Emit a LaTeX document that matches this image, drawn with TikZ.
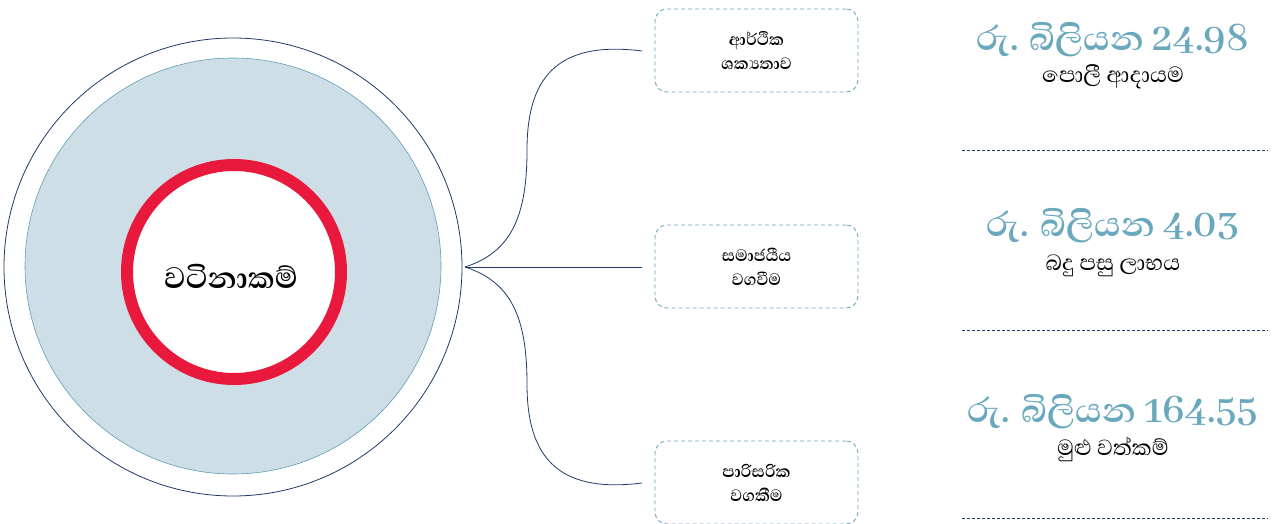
\documentclass[tikz,border=0pt]{standalone}
\usepackage{fontspec}
\newfontfamily\sinhala[Script=Sinhala]{Abhaya Libre}
\usetikzlibrary{positioning}
\definecolor{mynavy}{HTML}{1F3A68}
\definecolor{myteal}{HTML}{6AA8BE}
\definecolor{myred}{HTML}{E8193C}
\definecolor{myfill}{HTML}{CEDEE6}
\definecolor{myrim}{HTML}{5E9FB2}
\tikzset{
  pillarBox/.style={draw=myteal,line width=0.9pt,dash pattern=on 4pt off 3pt,rounded corners=12pt,minimum width=203pt,minimum height=83pt,align=center,inner sep=0pt,font=\sinhala\bfseries\fontsize{21}{24}\selectfont},
  amountText/.style={text=myteal,inner sep=0pt,font=\sinhala\bfseries\fontsize{44}{44}\selectfont},
  captionText/.style={inner sep=0pt,font=\sinhala\fontsize{28}{28}\selectfont},
  branchEdge/.style={draw=mynavy,line width=0.8pt},
  sepLine/.style={draw=mynavy,dash pattern=on 3pt off 2pt,line width=0.8pt},
}

\begin{document}
\begin{tikzpicture}[x=1pt,y=-1pt]
  \useasboundingbox (0,0) rectangle (1273,524);

  % circles
  \draw[mynavy,line width=0.8pt] (233,267) circle (229);
  \draw[myrim,fill=myfill,line width=0.6pt] (233,266) circle (208);
  \draw[myred,fill=white,line width=12pt] (234,272) circle (107);
  \node[inner sep=0pt,font=\sinhala\bfseries\fontsize{38}{38}\selectfont] (core) at (231,276) {වටිනාකම්};

  % pillars
  \node[pillarBox] (econ) at (756.5,50.5) {ආර්ථික\\ශක්‍යතාව};
  \node[pillarBox] (social) at (756.5,266.5) {සමාජයීය\\වගවීම};
  \node[pillarBox] (env) at (756.5,482.5) {පාරිසරික\\වගකීම};

  \coordinate (hub) at (465,267);
  \coordinate (econIn) at (642,51);
  \coordinate (socialIn) at (642,267);
  \coordinate (envIn) at (642,483);

  \path[branchEdge] (hub) .. controls (512,252) and (527,215) .. (527,150)
    .. controls (527,80) and (555,40) .. (econIn);
  \path[branchEdge] (hub) -- (socialIn);
  \path[branchEdge] (hub) .. controls (512,282) and (527,319) .. (527,384)
    .. controls (527,454) and (555,494) .. (envIn);

  % figures
  \node[amountText] (interest) at (1113,40) {රු. බිලියන 24.98};
  \node[captionText] (interestCap) at (1113,77) {පොලී ආදායම};
  \node[amountText] (profit) at (1113,226) {රු. බිලියන 4.03};
  \node[captionText] (profitCap) at (1113,266) {බදු පසු ලාභය};
  \node[amountText] (assets) at (1113,412) {රු. බිලියන 164.55};
  \node[captionText] (assetsCap) at (1113,450) {මුළු වත්කම්};

  \coordinate (sepA) at (962,150);
  \coordinate (sepB) at (962,330);
  \coordinate (sepC) at (962,518);
  \path[sepLine] (sepA) -- +(306,0);
  \path[sepLine] (sepB) -- +(306,0);
  \path[sepLine] (sepC) -- +(306,0);
\end{tikzpicture}
\end{document}
